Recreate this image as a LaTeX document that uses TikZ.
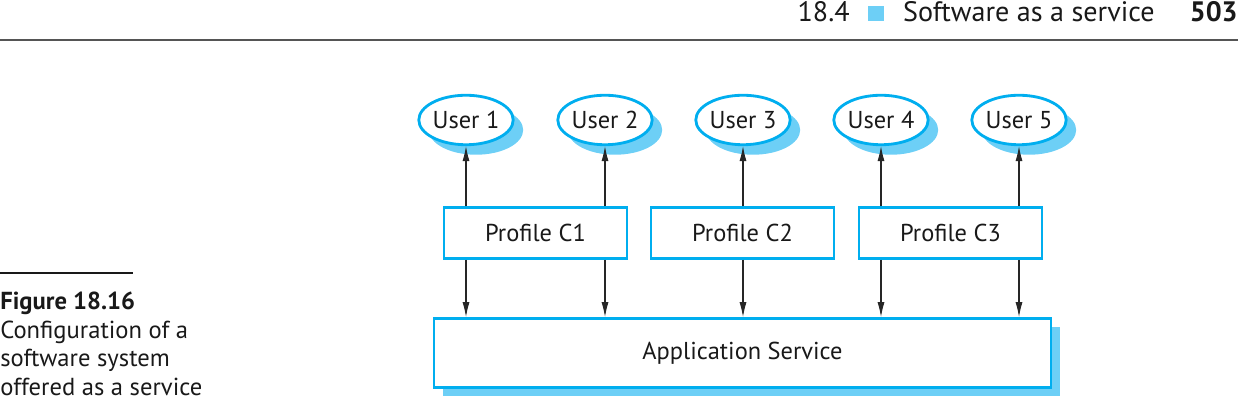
\documentclass[tikz,border=0pt]{standalone}
\usepackage{fontspec}
\setmainfont{PT Sans}
\usetikzlibrary{shapes.geometric,shadows,arrows.meta}
\definecolor{linecyan}{HTML}{00AEEF}
\definecolor{shadecyan}{HTML}{6DCFF6}
\definecolor{rulegray}{HTML}{555555}
\tikzset{
  every node/.style={font=\fontsize{13.9}{16.2}\selectfont, text=black!90},
  head/.style={anchor=base east, inner sep=0pt, font=\fontsize{16}{19}\selectfont},
  capline/.style={anchor=base west, inner sep=0pt, font=\fontsize{14}{16.2}\selectfont},
  user/.style={ellipse, draw=linecyan, line width=1.6pt, fill=white,
    minimum width=1.86cm, minimum height=0.99cm, inner sep=0pt,
    drop shadow={shadow xshift=0.2cm, shadow yshift=-0.2cm, fill=shadecyan, opacity=1}},
  profile/.style={rectangle, draw=linecyan, line width=1.6pt, fill=white,
    minimum width=3.66cm, minimum height=1.02cm, inner sep=0pt},
  appbox/.style={rectangle, draw=linecyan, line width=1.6pt, fill=white,
    minimum width=12.34cm, minimum height=1.38cm, inner sep=0pt,
    drop shadow={shadow xshift=0.18cm, shadow yshift=-0.18cm, fill=shadecyan, opacity=1}},
  link/.style={-{Latex[length=8.5pt,width=4pt]}, line width=0.6pt, black!85}
}
\begin{document}
\begin{tikzpicture}[x=0.02cm, y=-0.02cm]
      \useasboundingbox (0,0) rectangle (1238,404);
      % running head
      \node[head] (hnum) at (850,22) {18.4};
      \fill[shadecyan] (868,6.5) rectangle (883.5,21.5);
      \node[head] (htitle) at (1155,22) {Software as a service};
      \node[head, font=\fontsize{16}{19}\selectfont\bfseries] (hpage) at (1238,22) {503};
      \draw[rulegray, line width=1.1pt] (0,40) -- (1238,40);
      % caption
      \draw[black!90, line width=0.8pt] (0,273) -- (133,273);
      \node[capline, font=\fontsize{14}{16.2}\selectfont\bfseries] (cap0) at (0,310) {Figure 18.16};
      \node[capline] (cap1) at (0,338.5) {Configuration of a};
      \node[capline] (cap2) at (0,367) {software system};
      \node[capline] (cap3) at (0,395.5) {offered as a service};
      % users, profiles, service
      \foreach \i/\x in {1/466,2/605,3/743,4/881,5/1019} {
        \node[user] (u\i) at (\x,120) {User \i};
      }
      \foreach \i/\x in {1/535.5,2/742.5,3/950.5} {
        \node[profile] (p\i) at (\x,233) {Profile C\i};
      }
      \node[appbox] (app) at (742.5,353) {Application Service};
      \foreach \u/\p in {1/1,2/1,3/2,4/3,5/3} {
        \draw[link] (p\p.north -| u\u) -- (u\u.south);
        \draw[link] (p\p.south -| u\u) -- (app.north -| u\u);
      }
    \end{tikzpicture}
\end{document}
